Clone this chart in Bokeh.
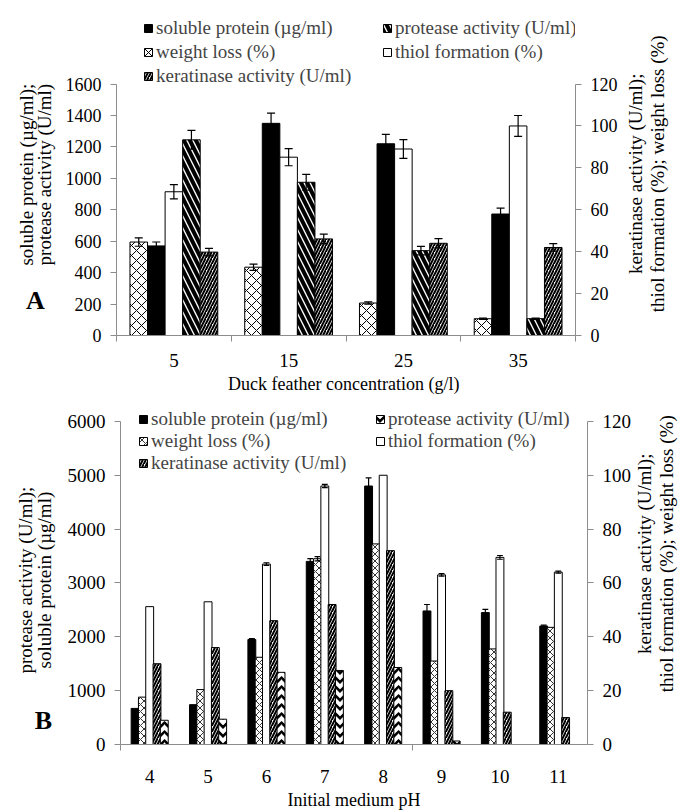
import math
from bokeh.plotting import figure
from bokeh.models import (Range1d, LinearAxis, FixedTicker, Legend, LegendItem,
                          ColumnDataSource)
from bokeh.layouts import column, row
from bokeh.transform import dodge
from bokeh.core.properties import value
from bokeh.embed import file_html
from bokeh.resources import INLINE

FONT = "Liberation Serif"
GRAY = "#8c8c8c"

# ---------------- Panel A data (duck feather concentration) ----------------
conc = ["5", "15", "25", "35"]
a_weight = [44.6, 32.6, 15.5, 8.0]          # % (right axis)
a_weight_err = [2.0, 1.5, 0.5, 0.3]
a_soluble = [570, 1350, 1220, 773]          # ug/ml (left axis)
a_soluble_err = [25, 65, 60, 38]
a_thiol = [68.6, 85.1, 89.0, 100.0]         # % (right axis)
a_thiol_err = [3.4, 4.1, 4.5, 5.0]
a_protease = [1245, 975, 540, 107]          # U/ml (left axis)
a_protease_err = [60, 50, 27, 4]
a_keratinase = [39.8, 46.1, 44.0, 42.0]     # U/ml (right axis)
a_keratinase_err = [1.8, 2.3, 2.2, 1.8]
a_left_ticks = [0, 200, 400, 600, 800, 1000, 1200, 1400, 1600]
a_right_ticks = [0, 20, 40, 60, 80, 100, 120]
a_left_title = ["soluble protein (µg/ml);", "protease activity (U/ml)"]
a_right_title = ["keratinase activity (U/ml);", "thiol formation (%); weight loss (%)"]
a_x_title = "Duck feather concentration  (g/l)"

# ---------------- Panel B data (initial medium pH) ----------------
ph = ["4", "5", "6", "7", "8", "9", "10", "11"]
b_soluble = [670, 740, 1950, 3400, 4800, 2480, 2450, 2200]   # left axis
b_soluble_err = [0, 0, 15, 50, 150, 120, 60, 15]
b_weight = [17.6, 20.4, 32.4, 69.0, 74.5, 31.0, 35.5, 43.5]  # right axis
b_weight_err = [0, 0, 0, 0.8, 0, 0, 0, 0]
b_thiol = [51.2, 53.0, 67.0, 96.0, 100.0, 63.0, 69.5, 64.0]  # right axis
b_thiol_err = [0, 0, 0.5, 0.6, 0, 0.5, 0.7, 0.4]
b_keratinase = [30.0, 36.0, 46.0, 52.0, 72.0, 20.0, 12.0, 10.0]  # right axis
b_keratinase_err = [0, 0, 0, 0, 0, 0, 0, 0]
b_protease = [450, 470, 1340, 1375, 1430, 65, 0, 0]           # left axis
b_protease_err = [0, 0, 0, 0, 0, 0, 0, 0]
b_left_ticks = [0, 1000, 2000, 3000, 4000, 5000, 6000]
b_right_ticks = [0, 20, 40, 60, 80, 100, 120]
b_left_title = ["protease activity (U/ml);", "soluble protein (µg/ml)"]
b_right_title = ["keratinase activity (U/ml);", "thiol formation (%); weight loss (%)"]
b_x_title = "Initial medium pH"

legend_labels = {
    "soluble": "soluble protein (µg/ml)",
    "protease": "protease activity (U/ml)",
    "weight": "weight loss (%)",
    "thiol": "thiol formation (%)",
    "keratinase": "keratinase activity (U/ml)",
}
legend_order = ["soluble", "protease", "weight", "thiol", "keratinase"]

STY_BLACK = dict(fill_color="black", line_color="black")
STY_WHITE = dict(fill_color="white", line_color="black")


def style_axis(ax, tick_size):
    ax.axis_line_color = GRAY
    ax.major_tick_line_color = GRAY
    ax.minor_tick_line_color = None
    ax.major_tick_out = 6
    ax.major_tick_in = 0
    ax.major_label_text_font = FONT
    ax.major_label_text_font_size = tick_size
    ax.major_label_text_color = "black"
    ax.axis_label_text_font = FONT
    ax.axis_label_text_font_style = "normal"
    ax.axis_label_text_color = "black"


def text_fig(width, height, xs, ys, texts, size, angle):
    f = figure(width=width, height=height, x_range=Range1d(0, width),
               y_range=Range1d(0, height), x_axis_type=None, y_axis_type=None,
               output_backend="svg", toolbar_location=None, min_border=0)
    f.outline_line_color = None
    f.text(x=xs, y=ys, text=texts, angle=angle, text_font=value(FONT),
           text_font_size=value(size), text_align="center",
           text_baseline="middle", text_color="black")
    return f


def make_panel(cats, series, left_ticks, right_ticks, x_label, width, height,
               borders, axis_top_px, bar_w, pitch, cap, tick_size, xtick_size,
               minor_every, xlab_standoff, xtitle_standoff, legend_loc, spacing):
    n = len(cats)
    frame_top = borders[2]
    frame_bottom = height - borders[3]
    # stretch factor so that the top tick sits at axis_top_px while the frame
    # extends up to hold the legend
    k = (frame_bottom - frame_top) / (frame_bottom - axis_top_px)
    p = figure(width=width, height=height, x_range=Range1d(0, n),
               y_range=Range1d(0, left_ticks[-1] * k), output_backend="svg",
               toolbar_location=None, min_border_left=borders[0],
               min_border_right=borders[1], min_border_top=borders[2],
               min_border_bottom=borders[3])
    p.extra_y_ranges = {"right": Range1d(0, right_ticks[-1] * k)}
    p.outline_line_color = None
    p.xgrid.visible = False
    p.ygrid.visible = False

    centers = [i + 0.5 for i in range(n)]
    xs = p.xaxis[0]
    style_axis(xs, xtick_size)
    xs.ticker = FixedTicker(ticks=centers,
                            minor_ticks=[float(i) for i in range(0, n + 1, minor_every)])
    xs.major_label_overrides = {c: lab for c, lab in zip(centers, cats)}
    xs.major_tick_out = 0
    xs.minor_tick_line_color = GRAY
    xs.minor_tick_out = 6
    xs.minor_tick_in = 0
    xs.major_label_standoff = xlab_standoff
    xs.axis_label = x_label
    xs.axis_label_text_font_size = "18px"
    xs.axis_label_standoff = xtitle_standoff

    ly = p.yaxis[0]
    style_axis(ly, tick_size)
    ly.ticker = FixedTicker(ticks=left_ticks)
    ly.bounds = (left_ticks[0], left_ticks[-1])
    ly.major_label_standoff = 9

    ry = LinearAxis(y_range_name="right", ticker=FixedTicker(ticks=right_ticks),
                    bounds=(right_ticks[0], right_ticks[-1]))
    style_axis(ry, tick_size)
    ry.major_label_standoff = 9
    p.add_layout(ry, "right")

    renderers = {}
    for i, s in enumerate(series):
        off = (i - (len(series) - 1) / 2) * pitch
        src = ColumnDataSource(dict(x=centers, top=s["values"]))
        kw = {}
        if s["axis"] == "right":
            kw["y_range_name"] = "right"
        r = p.vbar(x=dodge("x", off), top="top", bottom=0, width=bar_w,
                   source=src, line_width=1, **s["style"], **kw)
        renderers[s["name"]] = r
        keep = [j for j, e in enumerate(s["errs"]) if e > 0]
        if keep:
            esrc = ColumnDataSource(dict(
                x=[centers[j] for j in keep],
                lo=[s["values"][j] - s["errs"][j] for j in keep],
                hi=[s["values"][j] + s["errs"][j] for j in keep]))
            p.segment(x0=dodge("x", off), x1=dodge("x", off), y0="lo", y1="hi",
                      source=esrc, line_color="black", line_width=1.2, **kw)
            for yk in ("lo", "hi"):
                p.segment(x0=dodge("x", off - cap), x1=dodge("x", off + cap),
                          y0=yk, y1=yk, source=esrc, line_color="black",
                          line_width=1.2, **kw)

    items = [LegendItem(label=legend_labels[nm], renderers=[renderers[nm]])
             for nm in legend_order]
    leg = Legend(items=items, location=legend_loc, orientation="horizontal",
                 ncols=2, label_text_font=FONT, label_text_font_size="19px",
                 label_height=22, label_width=224,
                 glyph_height=10, glyph_width=10, label_standoff=3,
                 spacing=spacing, padding=0, margin=0,
                 border_line_color=None, background_fill_alpha=0)
    p.add_layout(leg, "center")
    return p


series_a = [
    dict(name="weight", values=a_weight, errs=a_weight_err, axis="right",
         style=dict(fill_color="white", line_color="black", hatch_pattern="x",
                    hatch_scale=10, hatch_weight=1, hatch_color="black")),
    dict(name="soluble", values=a_soluble, errs=a_soluble_err, axis="left", style=STY_BLACK),
    dict(name="thiol", values=a_thiol, errs=a_thiol_err, axis="right", style=STY_WHITE),
    dict(name="protease", values=a_protease, errs=a_protease_err, axis="left",
         style=dict(fill_color="white", line_color="black", hatch_pattern="\\",
                    hatch_scale=12, hatch_weight=4, hatch_color="black")),
    dict(name="keratinase", values=a_keratinase, errs=a_keratinase_err, axis="right",
         style=dict(fill_color="white", line_color="black", hatch_pattern="/",
                    hatch_scale=6, hatch_weight=2, hatch_color="black")),
]

series_b = [
    dict(name="soluble", values=b_soluble, errs=b_soluble_err, axis="left", style=STY_BLACK),
    dict(name="weight", values=b_weight, errs=b_weight_err, axis="right",
         style=dict(fill_color="white", line_color="black", hatch_pattern="x",
                    hatch_scale=7, hatch_weight=0.8, hatch_color="black")),
    dict(name="thiol", values=b_thiol, errs=b_thiol_err, axis="right", style=STY_WHITE),
    dict(name="keratinase", values=b_keratinase, errs=b_keratinase_err, axis="right",
         style=dict(fill_color="white", line_color="black", hatch_pattern="/",
                    hatch_scale=6, hatch_weight=2, hatch_color="black")),
    dict(name="protease", values=b_protease, errs=b_protease_err, axis="left",
         style=dict(fill_color="white", line_color="black", hatch_pattern="v",
                    hatch_scale=9, hatch_weight=2.5, hatch_color="black")),
]

# ----- panel A: [left titles | chart | right titles], rows 0..396 -----
HA = 396
pa = make_panel(conc, series_a, a_left_ticks, a_right_ticks, a_x_title,
                566, HA, (60, 47, 10, 59), 84, 0.153, 0.153, 0.035, "18px", "19px",
                1, 12, 4, (27, 248), 2)
la = text_fig(56, HA, [26, 44], [HA - 200, HA - 200], a_left_title, "19px", math.pi / 2)
la.text(x=[35], y=[HA - 353], text=["A"], text_font=value(FONT),
        text_font_size=value("26px"), text_font_style="bold",
        text_align="center", text_baseline="middle")
ra = text_fig(56, HA, [13, 35], [HA - 199, HA - 199], a_right_title, "19px", math.pi / 2)

# ----- panel B: rows 396..812 -----
HB = 416
TOP_B = 812 - HB
pb = make_panel(ph, series_b, b_left_ticks, b_right_ticks, b_x_title,
                578, HB, (64, 44, 6, 66), 421 - TOP_B, 0.135, 0.125, 0.05, "19px", "19px",
                5, 19, 4, (18, 270), 0)
lb = text_fig(56, HB, [25, 44], [812 - 612, 812 - 612], b_left_title, "19px", math.pi / 2)
lb.text(x=[43], y=[812 - 783], text=["B"], text_font=value(FONT),
        text_font_size=value("26px"), text_font_style="bold",
        text_align="center", text_baseline="middle")
rb = text_fig(44, HB, [10, 32], [812 - 580, 812 - 580], b_right_title, "19px", math.pi / 2)

layout = column(row(la, pa, ra, spacing=0), row(lb, pb, rb, spacing=0), spacing=0)
open("out.html", "w").write(file_html(layout, INLINE))
